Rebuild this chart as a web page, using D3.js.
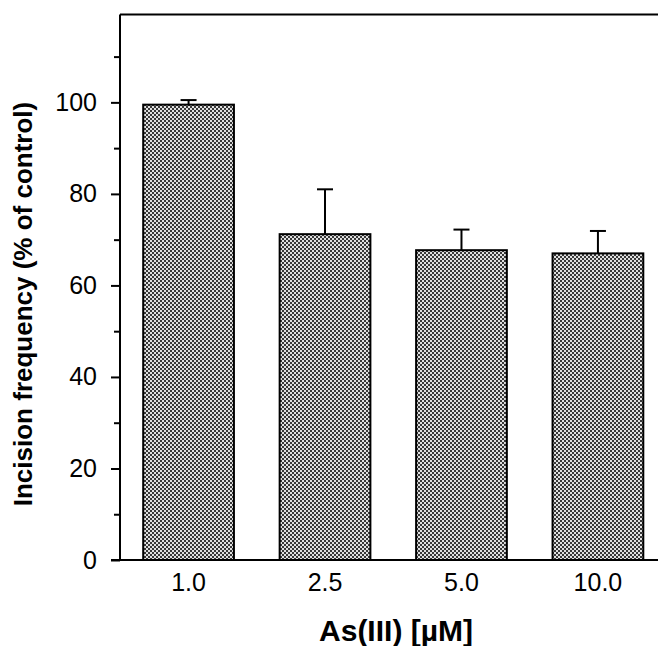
<!DOCTYPE html>
<html>
<head>
<meta charset="utf-8">
<script src="https://cdn.jsdelivr.net/npm/d3@7"></script>
<style>
  html, body { margin: 0; padding: 0; background: #fff; }
  svg { display: block; }
  text { font-family: "Liberation Sans", Arial, Helvetica, sans-serif; fill: #000; }
</style>
</head>
<body>
<svg id="chart" width="658" height="646"></svg>
<script>
"use strict";

// data
const categories = ["1.0", "2.5", "5.0", "10.0"]
const incision = [99.5, 71.2, 67.7, 67.0]
const errorUp = [1.0, 9.8, 4.5, 4.9]
const majorTicks = [0, 20, 40, 60, 80, 100]
const minorTicks = [10, 30, 50, 70, 90, 110]

const svg = d3.select("#chart")
const W = 658, H = 646
const plotLeft = 120, plotTop = 14.5, plotBottom = 560

let y = d3.scaleLinear()
  .domain([0, 119.2])
  .range([plotBottom, plotTop])

let x = d3.scaleBand()
  .domain(categories)
  .range([plotLeft, 666.5])
  .paddingInner(0.335)
  .paddingOuter(0.17)

// checker fill used by the bars
let defs = svg.append("defs")
let pat = defs.append("pattern")
  .attr("id", "checker")
  .attr("patternUnits", "userSpaceOnUse")
  .attr("width", 4).attr("height", 4)
pat.append("rect").attr("width", 4).attr("height", 4).attr("fill", "#e0e0e0")
pat.append("rect").attr("x", 0).attr("y", 0).attr("width", 2).attr("height", 2).attr("fill", "#383838")
pat.append("rect").attr("x", 2).attr("y", 2).attr("width", 2).attr("height", 2).attr("fill", "#383838")

// bars
svg.append("g").selectAll("rect").data(incision).enter()
  .append("rect")
  .attr("x", (d, i) => x(categories[i]))
  .attr("y", d => y(d))
  .attr("width", x.bandwidth())
  .attr("height", d => y(0) - y(d))
  .attr("fill", "url(#checker)")
  .attr("stroke", "#000")
  .attr("stroke-width", 2)

// error bars (upper only)
let eg = svg.append("g").attr("stroke", "#000").attr("stroke-width", 2)
incision.forEach((d, i) => {
  let cx = x(categories[i]) + x.bandwidth() / 2
  eg.append("line")
    .attr("x1", cx).attr("x2", cx)
    .attr("y1", y(d)).attr("y2", y(d + errorUp[i]))
  eg.append("line")
    .attr("x1", cx - 8).attr("x2", cx + 8)
    .attr("y1", y(d + errorUp[i])).attr("y2", y(d + errorUp[i]))
})

// frame: left axis, top line, bottom axis
let frame = svg.append("g").attr("stroke", "#000").attr("stroke-width", 2).attr("fill", "none")
frame.append("line").attr("x1", plotLeft).attr("x2", plotLeft).attr("y1", plotTop).attr("y2", plotBottom)
frame.append("line").attr("x1", plotLeft).attr("x2", W).attr("y1", plotTop).attr("y2", plotTop)
frame.append("line").attr("x1", plotLeft - 9).attr("x2", W).attr("y1", plotBottom).attr("y2", plotBottom)

// y axis
let yAxis = svg.append("g")
  .attr("transform", "translate(" + plotLeft + ",0)")
  .call(d3.axisLeft(y).tickValues(majorTicks).tickSize(9).tickPadding(14).tickFormat(d3.format("d")))
yAxis.select(".domain").remove()
yAxis.selectAll(".tick line").attr("stroke", "#000").attr("stroke-width", 2)
yAxis.selectAll(".tick text")
  .attr("font-size", 25)
  .attr("font-family", "Liberation Sans, Arial, sans-serif")

let yMinor = svg.append("g")
  .attr("transform", "translate(" + plotLeft + ",0)")
  .call(d3.axisLeft(y).tickValues(minorTicks).tickSize(6).tickFormat(""))
yMinor.select(".domain").remove()
yMinor.selectAll(".tick line").attr("stroke", "#000").attr("stroke-width", 2)

// x labels (no tick marks)
svg.append("g").selectAll("text").data(categories).enter()
  .append("text")
  .attr("x", d => x(d) + x.bandwidth() / 2)
  .attr("y", 591)
  .attr("text-anchor", "middle")
  .attr("font-size", 25)
  .text(d => d)

// axis titles
svg.append("text")
  .attr("x", 396)
  .attr("y", 641)
  .attr("text-anchor", "middle")
  .attr("font-size", 30)
  .attr("font-weight", "bold")
  .text("As(III) [µM]")

svg.append("text")
  .attr("transform", "translate(32,304) rotate(-90)")
  .attr("text-anchor", "middle")
  .attr("font-size", 26)
  .attr("font-weight", "bold")
  .text("Incision frequency (% of control)")
</script>
</body>
</html>
